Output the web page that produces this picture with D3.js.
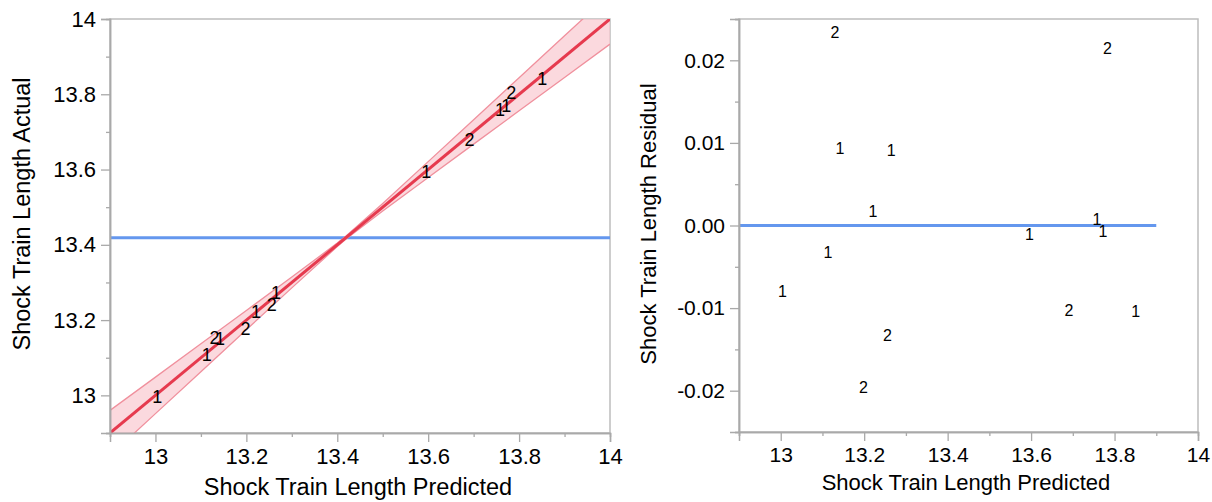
<!DOCTYPE html>
<html>
<head>
<meta charset="utf-8">
<script src="https://cdn.jsdelivr.net/npm/d3@7"></script>
<style>
  body { margin: 0; background: #fff; }
  svg { display: block; font-family: "Liberation Sans", Arial, sans-serif; }
</style>
</head>
<body>
<script>
(function(){
  // observations: predicted, residual, actual, group label
  var predicted = [13.004, 13.113, 13.130, 13.142, 13.198, 13.221, 13.256, 13.265, 13.596, 13.691, 13.758, 13.772, 13.783, 13.851];
  var residual  = [-0.0079, -0.0032, 0.0234, 0.0093, -0.0196, 0.0017, -0.0133, 0.0091, -0.0010, -0.0103, 0.0008, -0.0007, 0.0214, -0.0104];
  var actual    = [12.9961, 13.1098, 13.1534, 13.1513, 13.1784, 13.2227, 13.2427, 13.2741, 13.5950, 13.6807, 13.7588, 13.7713, 13.8044, 13.8406];
  var group     = [1, 1, 2, 1, 2, 1, 2, 1, 1, 2, 1, 1, 2, 1];

  var meanActual = 13.419;
  var fitEnds = [12.9, 14.0];
  var residLineEnds = [12.9, 13.9];

  // confidence band half-width
  var bandX    = [12.9, 13.0, 13.1, 13.2, 13.3, 13.4, 13.42, 13.5, 13.6, 13.7, 13.8, 13.9, 14.0];
  var bandHalf = [0.060, 0.0485, 0.037, 0.0256, 0.0144, 0.0046, 0.004, 0.010, 0.0211, 0.0324, 0.0439, 0.0553, 0.0668];

  var xMajor = [13, 13.2, 13.4, 13.6, 13.8, 14];
  var xMinor = [12.9, 13.1, 13.3, 13.5, 13.7, 13.9];
  var yMajorLeft = [13, 13.2, 13.4, 13.6, 13.8, 14];
  var yMinorLeft = [12.9, 13.1, 13.3, 13.5, 13.7, 13.9];
  var yMajorRight = [-0.02, -0.01, 0, 0.01, 0.02];
  var yMinorRight = [-0.025, -0.015, -0.005, 0.005, 0.015, 0.025];

  var axisColor = "#a9a9a9";
  var blue = "#6497ee";
  var red = "#e63a4e";

  var svg = d3.select("body").append("svg")
    .attr("width", 1212)
    .attr("height", 502);

  // ---------- left: actual by predicted ----------
  var L = { x0: 110, x1: 610, y0: 19, y1: 433 };
  var xL = d3.scaleLinear().domain([12.9, 14]).range([L.x0, L.x1]);
  var yL = d3.scaleLinear().domain([12.9, 14]).range([L.y1, L.y0]);

  svg.append("clipPath").attr("id", "clipL")
    .append("rect").attr("x", L.x0).attr("y", L.y0)
    .attr("width", L.x1 - L.x0).attr("height", L.y1 - L.y0);

  var gL = svg.append("g");
  frame(gL, L);

  var plotL = gL.append("g").attr("clip-path", "url(#clipL)");

  plotL.append("line")
    .attr("x1", L.x0).attr("x2", L.x1)
    .attr("y1", yL(meanActual)).attr("y2", yL(meanActual))
    .attr("stroke", blue).attr("stroke-width", 3);

  var band = bandX.map((x, i) => ({ x: x, lo: x - bandHalf[i], hi: x + bandHalf[i] }));
  plotL.append("path")
    .datum(band)
    .attr("fill", "#f9c9d0").attr("fill-opacity", 0.7)
    .attr("d", d3.area().x(d => xL(d.x)).y0(d => yL(d.lo)).y1(d => yL(d.hi)));
  ["lo", "hi"].forEach(k => {
    plotL.append("path")
      .datum(band)
      .attr("fill", "none").attr("stroke", "#f0909d").attr("stroke-width", 1.3)
      .attr("d", d3.line().x(d => xL(d.x)).y(d => yL(d[k])));
  });

  plotL.append("line")
    .attr("x1", xL(fitEnds[0])).attr("y1", yL(fitEnds[0]))
    .attr("x2", xL(fitEnds[1])).attr("y2", yL(fitEnds[1]))
    .attr("stroke", red).attr("stroke-width", 3);

  plotL.selectAll("text.pt")
    .data(predicted)
    .enter().append("text")
    .attr("class", "pt")
    .attr("x", (d, i) => xL(d))
    .attr("y", (d, i) => yL(actual[i]))
    .attr("dy", "0.36em")
    .attr("text-anchor", "middle")
    .attr("font-size", 18)
    .text((d, i) => group[i]);

  axes(gL, L, xL, yL, xMajor, xMinor, yMajorLeft, yMinorLeft, d => d3.format("")(d), 22);

  gL.append("text")
    .attr("x", 358).attr("y", 495)
    .attr("text-anchor", "middle").attr("font-size", 23.5)
    .text("Shock Train Length Predicted");
  gL.append("text")
    .attr("transform", "translate(30,214) rotate(-90)")
    .attr("text-anchor", "middle").attr("font-size", 23.5)
    .text("Shock Train Length Actual");

  // ---------- right: residual by predicted ----------
  var R = { x0: 739, x1: 1198, y0: 19, y1: 432 };
  var xR = d3.scaleLinear().domain([12.9, 14]).range([R.x0, R.x1]);
  var yR = d3.scaleLinear().domain([-0.025, 0.025]).range([R.y1, R.y0]);

  var gR = svg.append("g");
  frame(gR, R);

  gR.append("line")
    .attr("x1", xR(residLineEnds[0])).attr("x2", xR(residLineEnds[1]))
    .attr("y1", yR(0)).attr("y2", yR(0))
    .attr("stroke", blue).attr("stroke-width", 3);

  gR.selectAll("text.pt")
    .data(predicted)
    .enter().append("text")
    .attr("class", "pt")
    .attr("x", (d, i) => xR(d))
    .attr("y", (d, i) => yR(residual[i]))
    .attr("dy", "0.36em")
    .attr("text-anchor", "middle")
    .attr("font-size", 16)
    .text((d, i) => group[i]);

  axes(gR, R, xR, yR, xMajor, xMinor, yMajorRight, yMinorRight, d => d3.format(".2f")(d).replace("−", "-"), 21);

  gR.append("text")
    .attr("x", 966).attr("y", 490)
    .attr("text-anchor", "middle").attr("font-size", 22)
    .text("Shock Train Length Predicted");
  gR.append("text")
    .attr("transform", "translate(656,224) rotate(-90)")
    .attr("text-anchor", "middle").attr("font-size", 22)
    .text("Shock Train Length Residual");

  function frame(g, b) {
    g.append("rect")
      .attr("x", b.x0).attr("y", b.y0)
      .attr("width", b.x1 - b.x0).attr("height", b.y1 - b.y0)
      .attr("fill", "none").attr("stroke", "#bdbdbd").attr("stroke-width", 1.5);
  }

  function axes(g, b, x, y, xMaj, xMin, yMaj, yMin, fmtY, fs) {
    var xa = g.append("g").attr("transform", "translate(0," + b.y1 + ")");
    xa.call(d3.axisBottom(x).tickValues(xMaj).tickSize(9).tickPadding(6).tickFormat(d3.format("")));
    xa.append("g").call(d3.axisBottom(x).tickValues(xMin).tickSize(4).tickFormat(""));
    var ya = g.append("g").attr("transform", "translate(" + b.x0 + ",0)");
    ya.call(d3.axisLeft(y).tickValues(yMaj).tickSize(9).tickPadding(5).tickFormat(fmtY));
    ya.append("g").call(d3.axisLeft(y).tickValues(yMin).tickSize(4).tickFormat(""));

    g.selectAll(".domain").attr("stroke", axisColor).attr("stroke-width", 1.5);
    g.selectAll(".tick line").attr("stroke", axisColor).attr("stroke-width", 1.3);
    g.selectAll(".tick text").attr("fill", "#000").attr("font-size", fs)
      .attr("font-family", "Liberation Sans, Arial, sans-serif");
  }
})();
</script>
</body>
</html>
